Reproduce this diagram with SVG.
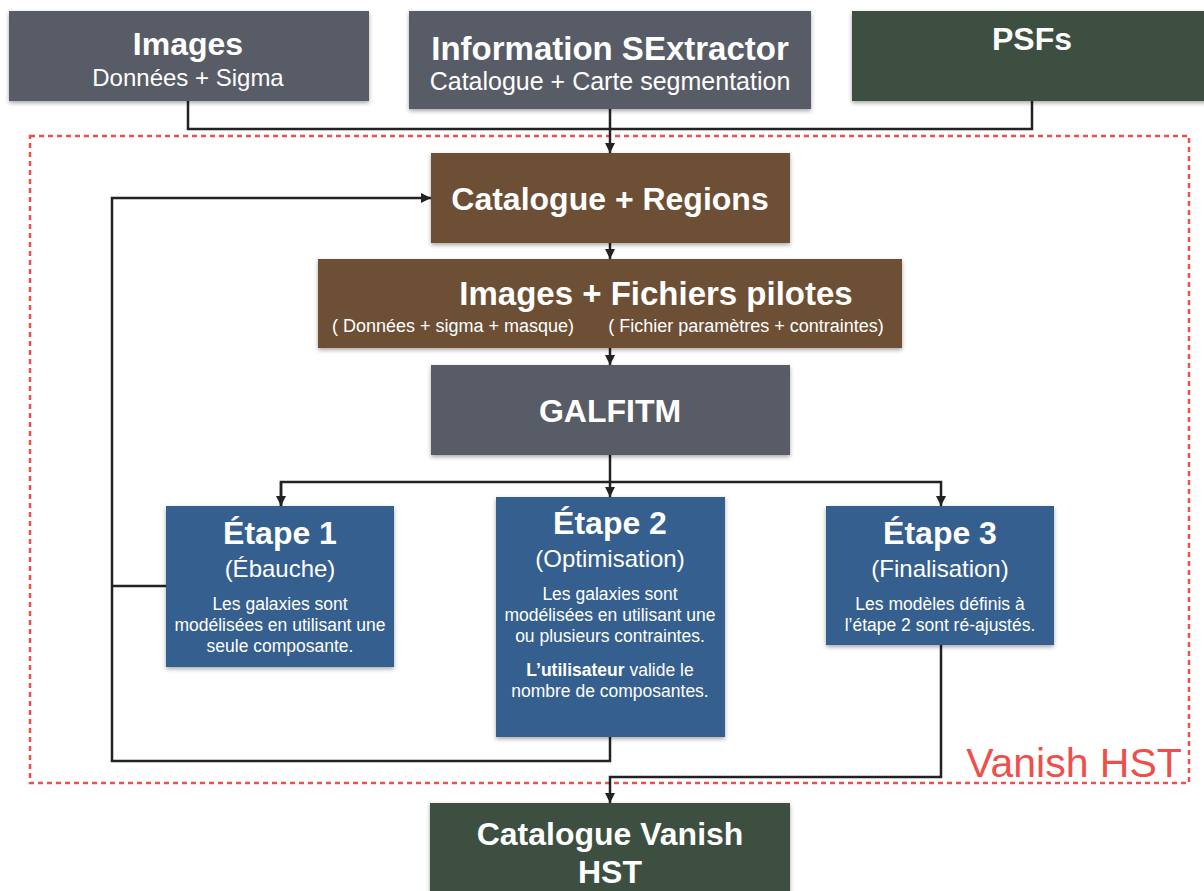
<svg xmlns="http://www.w3.org/2000/svg" width="1204" height="891" viewBox="0 0 1204 891">
<defs>
<filter id="sh" x="-10%" y="-10%" width="120%" height="130%">
<feDropShadow dx="0" dy="2" stdDeviation="2" flood-color="#000" flood-opacity="0.35"/>
</filter>
<marker id="ah" viewBox="0 0 10 10" refX="10" refY="5" markerWidth="10" markerHeight="10" markerUnits="userSpaceOnUse" orient="auto">
<path d="M0,0 L10,5 L0,10 z" fill="#222"/>
</marker>
</defs>
<style>
text{font-family:"Liberation Sans",Arial,Helvetica,sans-serif;fill:#fff;text-anchor:middle}
.t{font-weight:bold;font-size:32px}
.s{font-size:24px}
.b{font-size:17.5px}
.p{font-size:18px}
.gray{fill:#595c66}
.brown{fill:#6d4f36}
.blue{fill:#355f8e}
.green{fill:#3d4f3f}
.box{filter:url(#sh)}
.c{fill:none;stroke:#222;stroke-width:2.5}
</style>
<rect x="30" y="136" width="1159" height="647" fill="none" stroke="#ef4f4a" stroke-width="2.5" stroke-dasharray="5 4"/>
<text x="1074" y="777" style="font-size:41px;fill:#ef4f4a">Vanish HST</text>
<g id="connectors">
<path class="c" d="M188,101 V129 H1032 V101"/>
<path class="c" d="M610,109 V153" marker-end="url(#ah)"/>
<path class="c" d="M610,243 V259" marker-end="url(#ah)"/>
<path class="c" d="M610,348 V365" marker-end="url(#ah)"/>
<path class="c" d="M610,455 V497" marker-end="url(#ah)"/>
<path class="c" d="M281,506 V482 H941 V506" marker-end="url(#ah)"/>
<path class="c" d="M281,482 V506" marker-end="url(#ah)"/>
<path class="c" d="M610,737 V761 H112 V198 H431" marker-end="url(#ah)"/>
<path class="c" d="M167,586 H112"/>
<path class="c" d="M941,645 V777 H610 V803" marker-end="url(#ah)"/>
</g>
<g id="images">
<rect class="box gray" x="9" y="11" width="360" height="90"/>
<text class="t" x="188" y="55">Images</text>
<text class="s" x="188" y="86">Données + Sigma</text>
</g>
<g id="sextractor">
<rect class="box gray" x="409" y="11" width="402" height="98"/>
<text class="t" x="610" y="60" style="font-size:33px">Information SExtractor</text>
<text class="s" x="610" y="90" style="font-size:25px">Catalogue + Carte segmentation</text>
</g>
<g id="psfs">
<rect class="box green" x="852" y="11" width="360" height="90"/>
<text class="t" x="1032" y="50">PSFs</text>
</g>
<g id="catalogue-regions">
<rect class="box brown" x="431" y="153" width="359" height="90"/>
<text class="t" x="610" y="210">Catalogue + Regions</text>
</g>
<g id="fichiers-pilotes">
<rect class="box brown" x="318" y="259" width="584" height="89"/>
<text class="t" x="656" y="305" style="font-size:33px">Images + Fichiers pilotes</text>
<text class="p" x="453" y="332">( Données + sigma + masque)</text>
<text class="p" x="746" y="332">( Fichier paramètres + contraintes)</text>
</g>
<g id="galfitm">
<rect class="box gray" x="431" y="365" width="359" height="90"/>
<text class="t" x="610" y="422">GALFITM</text>
</g>
<g id="etape1">
<rect class="box blue" x="166" y="506" width="228" height="161"/>
<text class="t" x="280" y="544">Étape 1</text>
<text class="s" x="280" y="577">(Ébauche)</text>
<text class="b" x="280" y="610">Les galaxies sont</text>
<text class="b" x="280" y="631">modélisées en utilisant une</text>
<text class="b" x="280" y="652">seule composante.</text>
</g>
<g id="etape2">
<rect class="box blue" x="496" y="497" width="229" height="240"/>
<text class="t" x="610" y="534">Étape 2</text>
<text class="s" x="610" y="567">(Optimisation)</text>
<text class="b" x="610" y="600">Les galaxies sont</text>
<text class="b" x="610" y="621">modélisées en utilisant une</text>
<text class="b" x="610" y="642">ou plusieurs contraintes.</text>
<text class="b" x="610" y="676"><tspan font-weight="bold">L’utilisateur</tspan> valide le</text>
<text class="b" x="610" y="697">nombre de composantes.</text>
</g>
<g id="etape3">
<rect class="box blue" x="826" y="506" width="228" height="139"/>
<text class="t" x="940" y="544">Étape 3</text>
<text class="s" x="940" y="577">(Finalisation)</text>
<text class="b" x="940" y="610">Les modèles définis à</text>
<text class="b" x="940" y="631">l’étape 2 sont ré-ajustés.</text>
</g>
<g id="catalogue-vanish">
<rect class="box green" x="430" y="803" width="360" height="95"/>
<text class="t" x="610" y="845">Catalogue Vanish</text>
<text class="t" x="610" y="883">HST</text>
</g>
</svg>
